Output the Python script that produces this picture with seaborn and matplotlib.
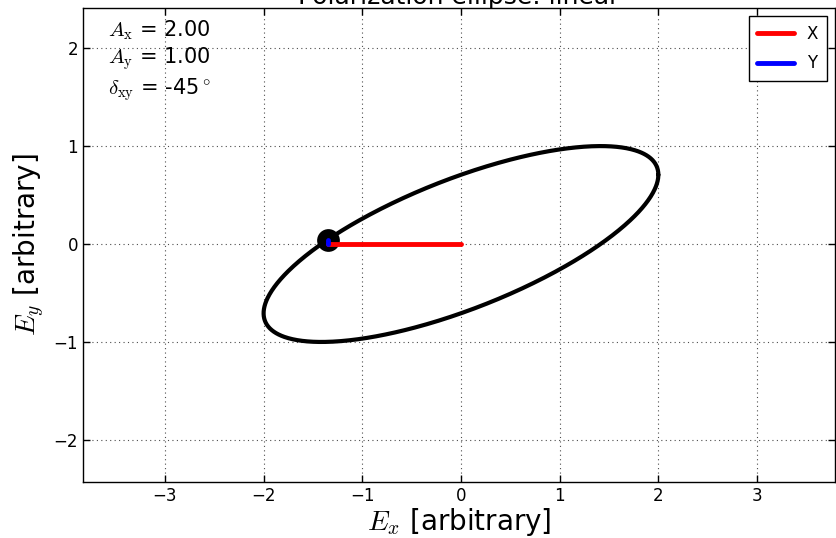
"""Polarization ellipse for a linear + phase-shifted field."""

import numpy as np
import pandas as pd
import seaborn as sns
from matplotlib import pyplot as plt

# Field parameters shown in the annotation
amp_x = 2.00
amp_y = 1.00
delta_xy_deg = -45
# Phase at which the current field vector is drawn
phase_now_deg = 132.5

x_ticks = [-3, -2, -1, 0, 1, 2, 3]
y_ticks = [-2, -1, 0, 1, 2]
title_text = "Polarization ellipse: linear"

sns.set_style("ticks")
plt.rcParams['font.family'] = ['DejaVu Sans']
plt.rcParams['mathtext.fontset'] = 'cm'
plt.rcParams['xtick.direction'] = 'in'
plt.rcParams['ytick.direction'] = 'in'
plt.rcParams['text.color'] = 'black'
plt.rcParams['axes.labelcolor'] = 'black'
plt.rcParams['xtick.color'] = 'black'
plt.rcParams['ytick.color'] = 'black'

# Ellipse traced by the tip of the field vector
phase = np.radians(np.linspace(0, 360, 721))
delta = np.radians(delta_xy_deg)
ellipse = pd.DataFrame({
    "Ex": amp_x * np.cos(phase),
    "Ey": amp_y * np.cos(phase + delta),
})

p0 = np.radians(phase_now_deg)
ex_now = amp_x * np.cos(p0)
ey_now = amp_y * np.cos(p0 + delta)
x_comp = pd.DataFrame({"Ex": [0, ex_now], "Ey": [0, 0]})
y_comp = pd.DataFrame({"Ex": [ex_now, ex_now], "Ey": [0, ey_now]})
tip = pd.DataFrame({"Ex": [ex_now], "Ey": [ey_now]})

fig = plt.figure(figsize=(8.36, 5.38), dpi=100)
ax = fig.add_axes([83 / 836, 56 / 538, 752 / 836, 474 / 538])

sns.lineplot(data=ellipse, x="Ex", y="Ey", sort=False, estimator=None,
             color="black", linewidth=3, legend=False, ax=ax)
sns.scatterplot(data=tip, x="Ex", y="Ey", color="black", s=230,
                edgecolor="black", legend=False, ax=ax, zorder=3)
sns.lineplot(data=x_comp, x="Ex", y="Ey", sort=False, estimator=None,
             color="red", linewidth=3.5, label="X", ax=ax, zorder=4)
sns.lineplot(data=y_comp, x="Ex", y="Ey", sort=False, estimator=None,
             color="blue", linewidth=3.5, label="Y", ax=ax, zorder=5)

ax.set_xlim(-3.83, 3.79)
ax.set_ylim(-2.43, 2.41)
ax.set_xticks(x_ticks)
ax.set_yticks(y_ticks)
ax.tick_params(labelsize=12, top=True, right=True, length=5, width=1,
               color="black")
ax.grid(True, color="0.3", linestyle=(0, (1, 3)), linewidth=0.8)
for spine in ax.spines.values():
    spine.set_visible(True)
    spine.set_color("black")
    spine.set_linewidth(1)

ax.set_xlabel(r"$E_x$ [arbitrary]", fontsize=20, labelpad=1)
ax.set_ylabel(r"$E_y$ [arbitrary]", fontsize=20, labelpad=5)
ax.set_title(title_text, fontsize=18, pad=3)

ax.text(0.033, 0.978,
        r"$A_\mathrm{x}$ = %.2f" "\n" r"$A_\mathrm{y}$ = %.2f" "\n"
        r"$\delta_\mathrm{xy}$ = %d$^\circ$" % (amp_x, amp_y, delta_xy_deg),
        transform=ax.transAxes, ha="left", va="top", fontsize=15,
        linespacing=1.2)

leg = ax.legend(loc="upper right", fontsize=12, fancybox=False,
                edgecolor="black", framealpha=1, handlelength=2.2,
                labelspacing=0.7, borderpad=0.5, borderaxespad=0.5)
leg.get_frame().set_linewidth(1)

fig.savefig("out.png", dpi=100)
